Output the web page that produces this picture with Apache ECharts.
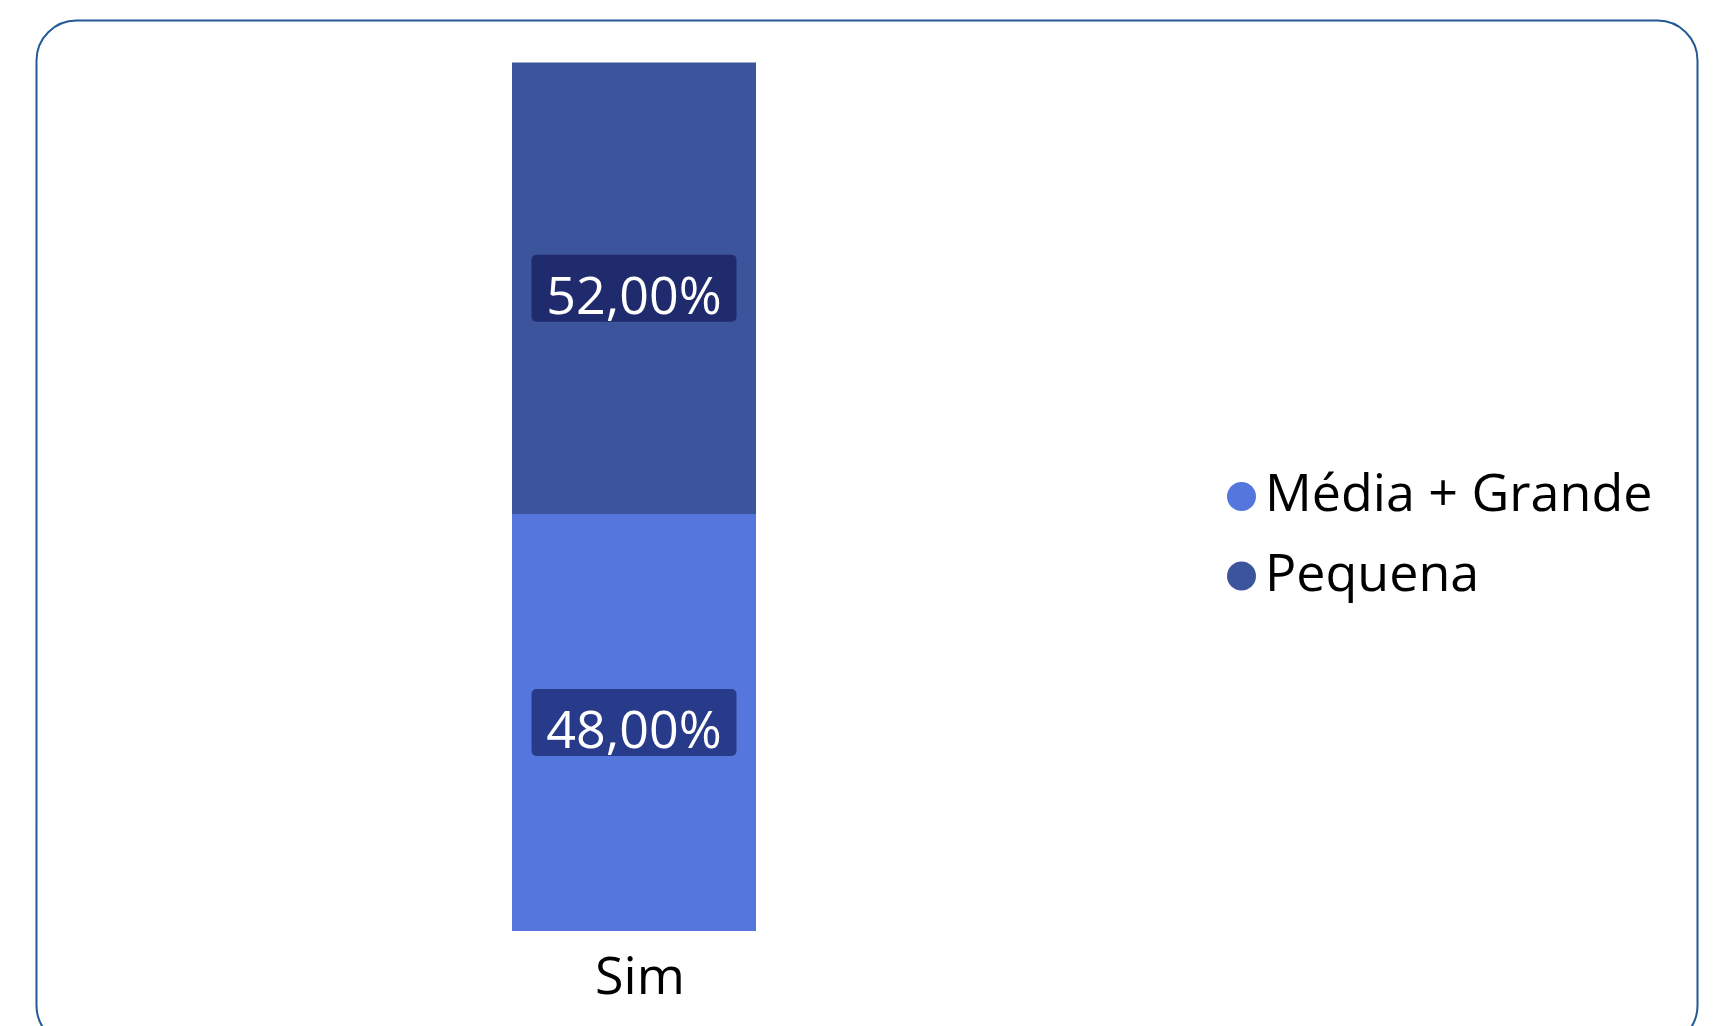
<!DOCTYPE html>
<html>
<head>
<meta charset="utf-8">
<title>Sim</title>
<script src="https://cdn.jsdelivr.net/npm/echarts@6/dist/echarts.min.js"></script>
<style>
  html, body { margin: 0; padding: 0; background: #ffffff; }
  #chart { width: 1719px; height: 1026px; }
</style>
</head>
<body>
<div id="chart"></div>
<script>
// Category and shares per company size (percent)
const categories = ['Sim'];
const mediaGrande = [48];
const pequena = [52];
const seriesNames = ['Média + Grande', 'Pequena'];

const FONT = '"Open Sans", "Noto Sans", sans-serif';

const fmt = v => v.toFixed(2).replace('.', ',') + '%';

// Value badge: dark rounded box, text sitting slightly low inside it
function labelStyle(bg) {
  return {
    show: true,
    position: 'inside',
    formatter: p => '{v|' + fmt(p.value) + '}',
    backgroundColor: bg,
    borderRadius: 5,
    padding: [9, 16, 9, 16],
    rich: {
      v: {
        color: '#ffffff',
        fontFamily: FONT,
        fontSize: 52,
        lineHeight: 49,
        width: 173,
        align: 'center',
        padding: [22, 0, 0, 0]
      }
    }
  };
}

const chart = echarts.init(document.getElementById('chart'));
chart.setOption({
  animation: false,
  graphic: [{
    type: 'rect',
    shape: { x: 36.5, y: 20.5, width: 1661, height: 1025, r: 40 },
    style: { fill: 'none', stroke: '#235a96', lineWidth: 2 },
    silent: true
  }],
  grid: { left: 390, right: 841, top: 62.5, bottom: 95, containLabel: false },
  legend: {
    orient: 'vertical',
    left: 1222,
    top: 465.5,
    icon: 'circle',
    itemWidth: 29,
    itemHeight: 29,
    itemGap: 27.5,
    data: seriesNames,
    textStyle: {
      fontFamily: FONT, fontSize: 52, color: '#000000',
      padding: [0, 0, 0, 4]
    }
  },
  xAxis: {
    type: 'category',
    data: categories,
    axisLine: { show: false },
    axisTick: { show: false },
    axisLabel: {
      fontFamily: FONT, fontSize: 52, color: '#000000',
      margin: 22, padding: [0, 0, 0, 12]
    }
  },
  yAxis: {
    type: 'value',
    min: 0,
    max: 100,
    show: false,
    splitLine: { show: false }
  },
  series: [
    {
      name: seriesNames[0],
      type: 'bar',
      stack: 'total',
      barWidth: 244,
      data: mediaGrande,
      itemStyle: { color: '#5576dc' },
      label: labelStyle('#283a8a')
    },
    {
      name: seriesNames[1],
      type: 'bar',
      stack: 'total',
      barWidth: 244,
      data: pequena,
      itemStyle: { color: '#3c549c' },
      label: labelStyle('#1f2b6d')
    }
  ]
});
</script>
</body>
</html>
